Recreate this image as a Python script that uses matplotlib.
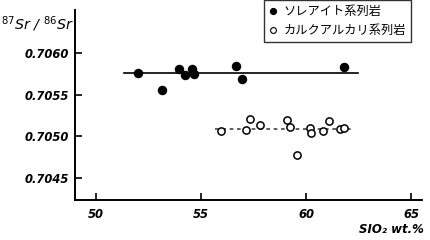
import matplotlib
matplotlib.use("Agg")
import matplotlib.pyplot as plt
from matplotlib.lines import Line2D

# tholeiite series (filled)
thol_sio2 = [51.99, 53.13, 53.95, 54.24, 54.56, 54.68, 56.65, 56.94, 61.78]
thol_sr = [0.70576, 0.70556, 0.70581, 0.70573, 0.70581, 0.70574, 0.70584, 0.70569, 0.70583]
# calc-alkaline series (open)
calc_sio2 = [55.95, 57.11, 57.33, 57.78, 59.08, 59.20, 59.57, 60.19, 60.22, 60.80, 61.09, 61.62, 61.78]
calc_sr = [0.70506, 0.70508, 0.70521, 0.70514, 0.70520, 0.70511, 0.70478, 0.70510,
           0.70504, 0.70506, 0.70518, 0.70509, 0.70510]
# fitted mean lines
thol_line_x = [51.35, 62.48]
thol_line_y = [0.70576, 0.70576]
calc_line_x = [55.67, 62.18]
calc_line_y = [0.70509, 0.70509]

xticks = [50, 55, 60, 65]
yticks = [0.7045, 0.7050, 0.7055, 0.7060]
legend_labels = ['ソレアイト系列岩', 'カルクアルカリ系列岩']

fig = plt.figure(figsize=(4.3, 2.4), dpi=100)
ax = fig.add_axes([75 / 430, 40 / 240, 347 / 430, 190 / 240])

ax.plot(thol_line_x, thol_line_y, color='black', lw=1.2)
ax.plot(calc_line_x, calc_line_y, color='#444444', lw=1.2, ls=(0, (2.2, 2.2)))
ax.plot(thol_sio2, thol_sr, 'o', ms=5.8, color='black', zorder=3)
ax.plot(calc_sio2, calc_sr, 'o', ms=5.2, mfc='white', mec='black', mew=1.1, zorder=3)

ax.set_xlim(49, 65.5)
ax.set_ylim(0.70424, 0.70651)
ax.spines['top'].set_visible(False)
ax.spines['right'].set_visible(False)
for s in ['left', 'bottom']:
    ax.spines[s].set_linewidth(1.4)

ax.set_xticks(xticks)
ax.set_yticks(yticks)
ax.set_yticklabels(['%.4f' % v for v in yticks])
ax.tick_params(direction='in', length=5, width=1.2, pad=4)
ax.tick_params(axis='x', pad=6)
for lab in ax.get_xticklabels() + ax.get_yticklabels():
    lab.set_fontsize(8.3)
    lab.set_fontweight('bold')
    lab.set_fontstyle('italic')
    lab.set_family('DejaVu Sans')

fig.text(1 / 430, 1 - 29 / 240, r'$^{87}$Sr / $^{86}$Sr', fontsize=10.3,
         style='italic', ha='left', va='baseline')
fig.text(424 / 430, 1 - 233 / 240, 'SIO₂ wt.%', fontsize=8.5,
         fontweight='bold', style='italic', ha='right', va='baseline')

handles = [
    Line2D([], [], ls='none', marker='o', ms=4.2, color='black'),
    Line2D([], [], ls='none', marker='o', ms=4.2, mfc='white', mec='black', mew=0.8),
]
leg = fig.legend(handles, legend_labels, loc='upper left',
                 bbox_to_anchor=(264 / 430, 1.0), borderaxespad=0,
                 frameon=True, fancybox=False, edgecolor='black',
                 handlelength=0.6, handletextpad=0.6, borderpad=0.4,
                 labelspacing=0.5, prop={'family': 'Noto Sans CJK JP', 'size': 8.8})
leg.get_frame().set_linewidth(1.0)

fig.savefig('out.png', dpi=100)
